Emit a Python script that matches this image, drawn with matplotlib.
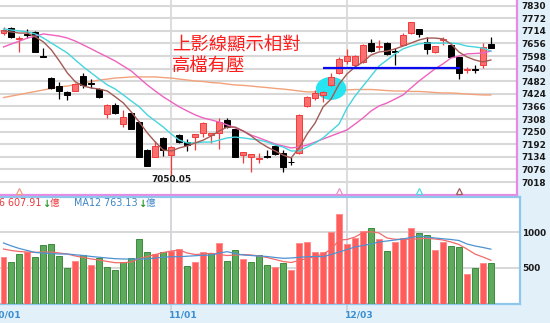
import matplotlib
matplotlib.use("Agg")
import matplotlib.pyplot as plt
from matplotlib.patches import Ellipse
import numpy as np

plt.rcParams['font.family'] = ['DejaVu Sans', 'Noto Sans CJK TC']

# ---- daily OHLC ----
opens = [7704, 7729, 7677, 7698, 7709, 7596, 7497, 7460, 7433, 7437,
         7506, 7474, 7446, 7331, 7373, 7285, 7336, 7294, 7165, 7133,
         7221, 7142, 7235, 7200, 7225, 7244, 7235, 7244, 7304, 7262,
         7142, 7133, 7126, 7135, 7184, 7152, 7112, 7152, 7368, 7405,
         7419, 7465, 7520, 7575, 7557, 7571, 7658, 7642, 7657, 7619,
         7649, 7704, 7723, 7663, 7617, 7674, 7649, 7592, 7536, 7539,
         7557, 7652]
highs = [7730, 7734, 7691, 7723, 7714, 7634, 7502, 7479, 7435, 7472,
         7520, 7492, 7451, 7375, 7382, 7350, 7340, 7297, 7168, 7207,
         7225, 7184, 7239, 7216, 7241, 7294, 7246, 7313, 7313, 7264,
         7158, 7149, 7152, 7165, 7188, 7165, 7133, 7329, 7414, 7442,
         7435, 7520, 7594, 7631, 7603, 7654, 7675, 7672, 7664, 7634,
         7704, 7757, 7725, 7685, 7646, 7687, 7657, 7594, 7549, 7557,
         7657, 7685]
lows = [7695, 7681, 7617, 7679, 7615, 7593, 7446, 7400, 7396, 7435,
        7451, 7451, 7405, 7313, 7331, 7271, 7260, 7131, 7090, 7131,
        7138, 7050.05, 7198, 7161, 7165, 7225, 7198, 7170, 7267, 7131,
        7106, 7064, 7106, 7129, 7142, 7064, 7096, 7149, 7364, 7396,
        7387, 7460, 7516, 7562, 7548, 7566, 7618, 7626, 7603, 7557,
        7647, 7700, 7687, 7606, 7614, 7649, 7592, 7491, 7521, 7521,
        7542, 7633]
closes = [7720, 7685, 7679, 7695, 7617, 7594, 7451, 7437, 7419, 7469,
          7465, 7471, 7410, 7373, 7336, 7317, 7262, 7133, 7092, 7184,
          7165, 7179, 7202, 7188, 7239, 7290, 7244, 7294, 7271, 7133,
          7156, 7147, 7129, 7133, 7147, 7087, 7108, 7327, 7410, 7428,
          7433, 7502, 7585, 7598, 7598, 7649, 7621, 7644, 7608, 7617,
          7695, 7755, 7700, 7631, 7644, 7677, 7594, 7521, 7539, 7536,
          7638, 7635]

# ---- price moving averages ----
ma5 = [7714, 7709, 7704, 7704, 7686, 7663, 7626, 7575, 7520, 7479,
       7460, 7451, 7446, 7437, 7410, 7382, 7340, 7294, 7244, 7202,
       7165, 7161, 7175, 7184, 7198, 7211, 7230, 7253, 7271, 7271,
       7253, 7230, 7202, 7179, 7161, 7142, 7129, 7175, 7239, 7290,
       7364, 7400, 7469, 7516, 7548, 7571, 7603, 7617, 7621, 7631,
       7644, 7658, 7672, 7681, 7681, 7677, 7654, 7617, 7594, 7580,
       7571, 7580]
ma10 = [7723, 7718, 7714, 7709, 7700, 7681, 7658, 7635, 7612, 7580,
        7548, 7520, 7492, 7465, 7446, 7419, 7391, 7364, 7327, 7299,
        7271, 7239, 7211, 7198, 7198, 7202, 7202, 7211, 7221, 7225,
        7221, 7216, 7211, 7202, 7188, 7179, 7161, 7161, 7179, 7198,
        7221, 7253, 7285, 7359, 7414, 7460, 7506, 7552, 7580, 7608,
        7631, 7644, 7654, 7658, 7658, 7658, 7658, 7654, 7644, 7640,
        7635, 7621]
ma20 = [7640, 7654, 7667, 7681, 7690, 7700, 7695, 7690, 7681, 7667,
        7649, 7631, 7612, 7594, 7575, 7552, 7529, 7497, 7465, 7437,
        7410, 7387, 7364, 7345, 7327, 7313, 7304, 7294, 7281, 7267,
        7253, 7234, 7221, 7207, 7193, 7184, 7175, 7179, 7188, 7202,
        7216, 7230, 7244, 7258, 7285, 7313, 7345, 7368, 7382, 7400,
        7419, 7451, 7483, 7511, 7539, 7562, 7589, 7598, 7608, 7610,
        7612, 7621]
ma60 = [7407, 7414, 7421, 7428, 7435, 7442, 7449, 7456, 7460, 7467,
        7474, 7481, 7488, 7492, 7497, 7499, 7502, 7502, 7502, 7502,
        7499, 7497, 7492, 7488, 7483, 7481, 7476, 7474, 7469, 7465,
        7463, 7460, 7456, 7453, 7449, 7446, 7442, 7437, 7433, 7433,
        7435, 7437, 7439, 7442, 7444, 7444, 7444, 7442, 7439, 7437,
        7437, 7435, 7435, 7433, 7430, 7428, 7428, 7426, 7423, 7421,
        7419, 7419]

# ---- volume (億) ----
volumes = [657, 587, 695, 728, 649, 822, 831, 672, 494, 601,
           681, 541, 635, 508, 470, 587, 635, 906, 719, 691,
           728, 737, 770, 527, 587, 728, 705, 854, 601, 751,
           621, 587, 681, 541, 517, 565, 470, 854, 868, 728,
           723, 1008, 1257, 831, 915, 1018, 1056, 906, 737, 859,
           915, 1065, 995, 957, 751, 868, 807, 789, 414, 494,
           573, 573]
vol_dir = list("rggrgggggrgrgggggggrgrrgrrgrggrgggrgrrrrrrrrrrgrgrrrggrrggrgrg")
vma6 = [765, 744, 730, 723, 719, 723, 723, 709, 695, 667,
        646, 625, 611, 590, 573, 573, 583, 632, 660, 688,
        716, 737, 751, 709, 688, 695, 705, 688, 674, 681,
        688, 681, 667, 646, 618, 590, 576, 604, 632, 660,
        695, 760, 892, 899, 934, 997, 1008, 990, 920, 902,
        902, 902, 909, 916, 906, 892, 864, 829, 765, 695,
        653, 607.91]
vma12 = [850, 808, 772, 744, 716, 709, 702, 695, 695, 684,
         674, 660, 649, 639, 629, 625, 625, 625, 625, 639,
         649, 657, 657, 664, 671, 677, 681, 709, 728, 702,
         681, 674, 667, 660, 646, 635, 639, 649, 657, 660,
         657, 688, 723, 758, 794, 815, 836, 864, 878, 892,
         906, 927, 948, 934, 920, 909, 899, 885, 836, 808,
         787, 763.13]

price_ticks = [7018, 7076, 7134, 7192, 7250, 7308, 7366, 7424, 7482,
               7540, 7598, 7656, 7714, 7772, 7830]
vol_ticks = [500, 1000]
date_labels = ["10/01", "11/01", "12/03"]
date_pos = [-1, 21, 43]

low_idx = 21
resist_level = 7541
resist_span = (40, 57.1)
turn_marks = [(2, '#F09A80'), (42, '#E890CC'), (52, '#4FD8E0'), (57, '#A05858')]

# ---- figure geometry (pixels) ----
W, H = 550, 323
fig = plt.figure(figsize=(W / 100, H / 100), dpi=100, facecolor='#E2F0FA')


def fx(px):
    return px / W


def fy(py):
    return 1 - py / H


main_right = 517
ax = fig.add_axes([0, fy(194.5), fx(main_right), 194.5 / H])
axv = fig.add_axes([0, fy(303.5), fx(519.5), (303.5 - 196.5) / H])

px_per_bar = 7.99
x0_px = 3.5
xmin = -x0_px / px_per_bar
ax.set_xlim(xmin, (main_right - x0_px) / px_per_bar)
axv.set_xlim(xmin, (519.5 - x0_px) / px_per_bar)
ax.set_ylim(7856.3 - 4.606 * 194.5, 7856.3)
axv.set_ylim(0, (303.5 - 196.5) / 0.0712)

for a, pad in ((ax, 3.2), (axv, 2.0)):
    a.set_facecolor('white')
    a.set_xticks([])
    a.yaxis.tick_right()
    a.tick_params(axis='y', length=0, pad=pad, labelsize=6.4, labelcolor='#1a1a1a')
    a.spines['left'].set_visible(False)
    a.spines['top'].set_visible(False)

ax.spines['right'].set_color('#E58BE5')
ax.spines['right'].set_linewidth(1.6)
ax.spines['bottom'].set_color('#E58BE5')
ax.spines['bottom'].set_linewidth(1.6)
for s in ('top', 'right', 'bottom'):
    axv.spines[s].set_visible(True)
    axv.spines[s].set_color('#8EC6EC')
    axv.spines[s].set_linewidth(1.6)

ax.set_yticks(price_ticks)
ax.set_yticklabels([str(t) for t in price_ticks], fontweight='bold')
axv.set_yticks(vol_ticks)
axv.set_yticklabels([str(t) for t in vol_ticks], fontweight='bold')
ax.grid(axis='y', color='#D8D8D8', lw=1.5, zorder=0)
axv.grid(axis='y', color='#D4D4D4', lw=1.3, zorder=0)
for p in date_pos[1:]:
    ax.axvline(p, color='#D2D2D2', lw=1.1, zorder=0)
    axv.axvline(p, ymin=-0.06, ymax=1, color='#C8CCD4', lw=1.1, zorder=0, clip_on=False)

x = np.arange(len(closes))
o = np.array(opens, float)
c = np.array(closes, float)
up = c >= o

# long-term average and the highlighted breakout zone
ax.plot(x, ma60, color='#F2A27A', lw=1.0, zorder=2)
ax.add_patch(Ellipse((41.0, 7449), width=3.8, height=106, facecolor='#27E4F0',
                     edgecolor='none', zorder=2.5))
ax.hlines(resist_level, resist_span[0], resist_span[1], color='#0A0AF0', lw=1.6, zorder=6)

# candles
wick_col = np.where(up, '#F03C3C', '#000000')
ax.vlines(x, lows, highs, colors=wick_col, lw=0.9, zorder=3)
body_lo = np.minimum(o, c)
body_h = np.maximum(np.abs(c - o), 2.5)
ax.bar(x, body_h, bottom=body_lo, width=0.75,
       color=np.where(up, '#FF6E6E', '#000000'),
       edgecolor=np.where(up, '#F03C3C', '#000000'), lw=0.7, zorder=4)

ax.plot(x, ma20, color='#EE62C0', lw=1.0, zorder=5)
ax.plot(x, ma10, color='#45D5DE', lw=1.0, zorder=5)
ax.plot(x, ma5, color='#A35A55', lw=1.0, zorder=5)

for idx, col in turn_marks:
    ax.plot(idx, 7856.3 - 4.606 * 191.3, marker='^', ms=4.5, mfc='white', mec=col,
            mew=0.9, zorder=6, clip_on=False)

ax.text(low_idx, lows[low_idx] - 2, f"{lows[low_idx]:.2f}", ha='center', va='top',
        fontsize=6.4, fontweight='bold', color='#1a1a1a', zorder=7)

ann_font = ['Noto Sans CJK TC']
fig.text(fx(172), fy(45), "上影線顯示相對", fontsize=13.2, color='#FF1E1E',
         family=ann_font, ha='left', va='center')
fig.text(fx(172), fy(65.5), "高檔有壓", fontsize=13.2, color='#FF1E1E',
         family=ann_font, ha='left', va='center')

# volume bars
vred = np.array([d == 'r' for d in vol_dir])
axv.bar(x, volumes, width=0.75, color=np.where(vred, '#FF5C5C', '#5DAA5D'),
        edgecolor=np.where(vred, '#FF8C8C', '#3C8C3C'), lw=0.7, zorder=3)
axv.plot(x, vma6, color='#F26A6A', lw=0.9, zorder=4)
axv.plot(x, vma12, color='#4E92D2', lw=0.9, zorder=4)

ly = fy(203.5)
fig.text(fx(41.8), ly, f"MA6 {vma6[-1]:.2f}", color='#E8383D', fontsize=6.9,
         ha='right', va='center')
fig.text(fx(46.5), ly, "↓", color='#2E9A2E', fontsize=7.2, fontweight='bold',
         ha='center', va='center')
fig.text(fx(54), ly, "億", color='#E8383D', fontsize=6.9, ha='center', va='center',
         family=['Noto Sans CJK TC'])
fig.text(fx(74), ly, f"MA12 {vma12[-1]:.2f}", color='#3D85C6', fontsize=6.9,
         ha='left', va='center')
fig.text(fx(142.5), ly, "↓", color='#2E9A2E', fontsize=7.2, fontweight='bold',
         ha='center', va='center')
fig.text(fx(150), ly, "億", color='#3D85C6', fontsize=6.9, ha='center', va='center',
         family=['Noto Sans CJK TC'])

for lab, p in zip(date_labels, date_pos):
    px = x0_px + p * px_per_bar
    fig.text(fx(px - 2.5), fy(315.5), lab, color='#3A8ED2', fontsize=6.6,
             fontweight='bold', ha='left', va='center')

fig.savefig("out.png", dpi=100, facecolor=fig.get_facecolor())
